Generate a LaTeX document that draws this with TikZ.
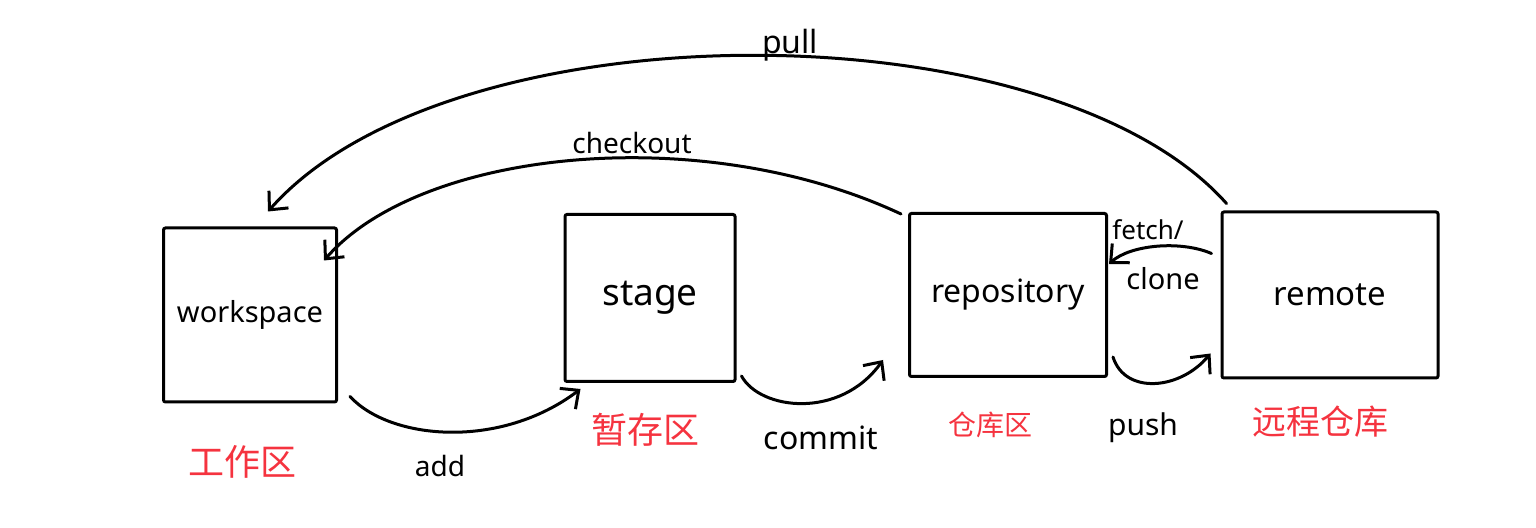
\documentclass[tikz,border=0pt]{standalone}
\usepackage{fontspec}
\setmainfont{Noto Sans}
\newfontfamily\cjk{Noto Sans CJK SC}
\usetikzlibrary{arrows.meta,calc}
\definecolor{lblred}{HTML}{F5333F}
\tikzset{
  box/.style={draw, line width=1.5pt, inner sep=0pt, rounded corners=1pt},
  flow/.style={line width=1.5pt, line cap=round, -{Straight Barb[length=7pt,width=13pt,line width=1.5pt]}},
  zh/.style={text=lblred, inner sep=0pt, font=\cjk\fontsize{18}{20}\selectfont},
  en/.style={inner sep=0pt, font=\fontsize{15}{17}\selectfont}
}
\begin{document}
\begin{tikzpicture}[x=0.5pt,y=-0.5pt]
\useasboundingbox (0,0) rectangle (1536,528);
% boxes
\node[box, minimum width=86.5pt, minimum height=87pt, font=\fontsize{14.5}{16}\selectfont] (ws) at (250,315) {workspace};
\node[box, minimum width=85pt, minimum height=83.5pt, font=\fontsize{18.5}{20}\selectfont] (st) at (650,298) {stage};
\node[box, minimum width=98.5pt, minimum height=81.5pt, font=\fontsize{16}{18}\selectfont] (rp) at (1008,295) {repository};
\node[box, minimum width=108pt, minimum height=83pt, font=\fontsize{16.5}{18}\selectfont] (rm) at (1330,295) {remote};
% red labels
\node[zh] (zws) at (242,462) {工作区};
\node[zh] (zst) at (645,430) {暂存区};
\node[zh, font=\cjk\fontsize{14}{16}\selectfont] (zrp) at (990,425) {仓库区};
\node[zh, font=\cjk\fontsize{17}{19}\selectfont] (zrm) at (1320,422) {远程仓库};
% connectors
\draw[flow] ($(ws.south east)+(12,-7)$) .. controls (390,440) and (500,450) .. ($(st.south west)+(17,6)$);
\draw[flow] ($(st.south east)+(5,-7)$) .. controls (760,410) and (840,420) .. ($(rp.south west)+(-25,-18)$);
\draw[flow] ($(rp.south east)+(5,-21)$) .. controls (1125,395) and (1180,390) .. ($(rm.south west)+(-10,-26)$);
\draw[flow] ($(rm.north west)+(-9,43)$) .. controls (1180,240) and (1130,245) .. ($(rp.north east)+(1,52)$);
\draw[flow] ($(rp.north west)+(-7,2)$) .. controls (700,120) and (420,150) .. ($(ws.north east)+(-14,34)$);
\draw[flow] ($(rm.north west)+(6,-7)$) .. controls (1050,5) and (450,5) .. ($(ws.north)+(18,-15)$);
% connector labels
\node[en, font=\fontsize{14}{16}\selectfont] (ladd) at (440,466) {add};
\node[en, font=\fontsize{16}{18}\selectfont] (lcommit) at (821,438) {commit};
\node[en] (lpush) at (1143,428) {push};
\node[en, font=\fontsize{13}{15}\selectfont] (lfetch) at (1148,230) {fetch/};
\node[en, font=\fontsize{14.5}{16}\selectfont] (lclone) at (1163,279) {clone};
\node[en, font=\fontsize{14}{16}\selectfont] (lcheckout) at (632,143) {checkout};
\node[en, font=\fontsize{16}{18}\selectfont] (lpull) at (790,45) {pull};
\end{tikzpicture}
\end{document}
